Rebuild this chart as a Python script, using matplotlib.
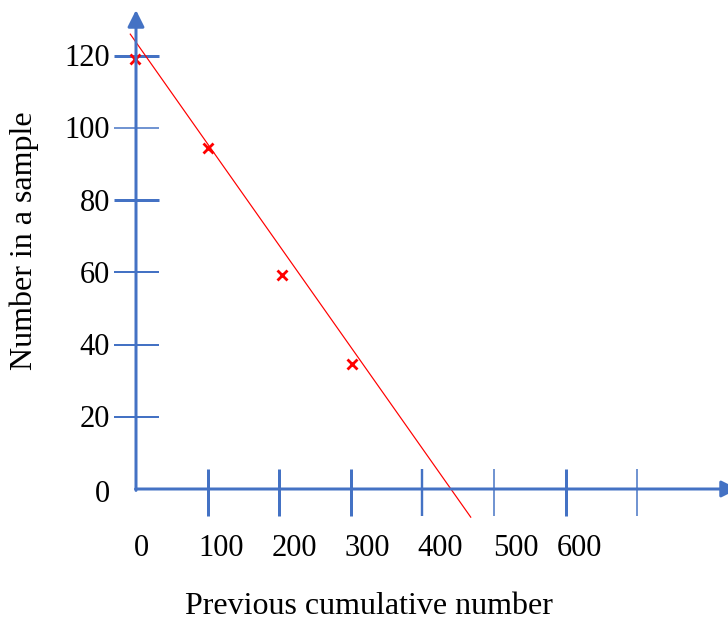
import matplotlib
matplotlib.use("Agg")
import matplotlib.pyplot as plt
from matplotlib.transforms import ScaledTranslation

# data
sample_x = [-2, 101, 204, 301]
sample_y = [119, 94.5, 59.3, 34.7]
line_x = [-8, 467.5]
line_y = [126.0, -7.8]

x_ticks = [100, 200, 300, 400, 500, 600, 700]
x_tick_width = [3, 3, 3, 2.4, 1.5, 3, 1.5]
x_labels = ["0", "100", "200", "300", "400", "500", "600"]
x_label_vals = [0, 100, 200, 300, 400, 500, 600]
x_label_nudge = [6, 15, 16, 17, 19, 23, 15]  # px, the labels are hand placed

y_ticks = [20, 40, 60, 80, 100, 120]
y_tick_width = [2, 2, 2, 3, 1.5, 3]
y_labels = ["0", "20", "40", "60", "80", "100", "120"]
y_label_vals = [0, 20, 40, 60, 80, 100, 120]

blue = "#4472C4"
red = "#FF0000"

W, H = 728, 621
x0_px, y0_px = 136, 489
sx, sy = 0.716, 3.61  # px per unit

fig = plt.figure(figsize=(W / 100, H / 100), dpi=100)
ax = fig.add_axes([0, 0, 1, 1])
ax.set_xlim(-x0_px / sx, (W - x0_px) / sx)
ax.set_ylim(-(H - y0_px) / sy, y0_px / sy)
ax.axis("off")

px = 72 / 100  # points per pixel
serif = ["Liberation Serif", "DejaVu Serif"]

# axes with arrow heads
x_end = (738 - x0_px) / sx
y_end = (y0_px - 10) / sy
arrow = dict(arrowstyle="-|>,head_length=10,head_width=5", color=blue,
             lw=3 * px, shrinkA=0, shrinkB=0, mutation_scale=1)
ax.annotate("", xy=(x_end, 0), xytext=(-0.7, 0), arrowprops=arrow,
            annotation_clip=False)
ax.annotate("", xy=(0, y_end), xytext=(0, -0.4), arrowprops=arrow,
            annotation_clip=False)

# ticks
for v, w in zip(x_ticks, x_tick_width):
    ax.plot([v, v], [20 / sy, -27 / sy], color=blue, lw=w * px, solid_capstyle="butt")
for v, w in zip(y_ticks, y_tick_width):
    ax.plot([-22 / sx, 23 / sx], [v, v], color=blue, lw=w * px, solid_capstyle="butt")

# tick labels
for v, lab, n in zip(x_label_vals, x_labels, x_label_nudge):
    tr = ax.transData + ScaledTranslation((n - 1) / 100, -59 / 100, fig.dpi_scale_trans)
    ax.text(v, 0, lab, transform=tr, ha="center", va="center",
            fontsize=22, family=serif)
for v, lab in zip(y_label_vals, y_labels):
    dy = -6 if v == 0 else -3
    tr = ax.transData + ScaledTranslation(0, dy / 100, fig.dpi_scale_trans)
    ax.text(-26 / sx, v, lab, transform=tr, ha="right", va="center",
            fontsize=22, family=serif)

# fitted line and sample points
ax.plot(line_x, line_y, color=red, lw=1.2 * px)
ax.plot(sample_x, sample_y, ls="none", marker="x", color=red,
        markersize=7, markeredgewidth=2)

fig.text(368.5 / W, 1 - 606 / H, "Previous cumulative number", ha="center",
         va="center", fontsize=23, family=serif)
fig.text(24 / W, 1 - 241 / H, "Number in a sample", ha="center", va="center",
         rotation=90, fontsize=23, family=serif)

fig.savefig("out.png", dpi=100)
